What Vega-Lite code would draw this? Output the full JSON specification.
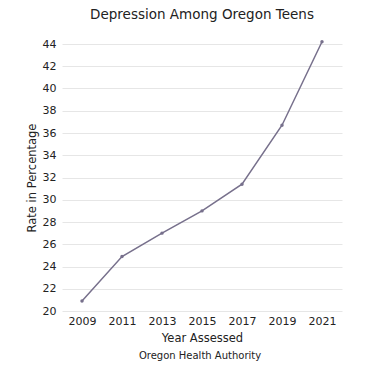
{
  "$schema": "https://vega.github.io/schema/vega-lite/v6.json",
  "background": "white",
  "padding": {"left": 26, "top": 7, "right": 5, "bottom": 5},
  "config": {
    "font": "DejaVu Sans",
    "view": {"stroke": null},
    "axis": {"domain": false, "ticks": false, "labelColor": "#222", "titleColor": "#222", "labelFont": "DejaVu Sans", "titleFont": "DejaVu Sans", "titleFontWeight": "normal", "labelFontSize": 11, "titleFontSize": 11.5}
  },
  "title": {"text": "Oregon Health Authority", "orient": "bottom", "anchor": "middle", "fontSize": 10, "fontWeight": "normal", "color": "#222", "font": "DejaVu Sans", "offset": 7, "dx": 16},
  "vconcat": [
    {
      "title": {"text": "Depression Among Oregon Teens", "fontSize": 13.5, "fontWeight": "normal", "color": "#222", "font": "DejaVu Sans", "anchor": "middle", "frame": "group", "offset": 17},
      "width": 280,
      "height": 267,
      "data": {"values": [
        {"year": "2009", "rate": 20.9},
        {"year": "2011", "rate": 24.9},
        {"year": "2013", "rate": 27.0},
        {"year": "2015", "rate": 29.0},
        {"year": "2017", "rate": 31.4},
        {"year": "2019", "rate": 36.7},
        {"year": "2021", "rate": 44.2}
      ]},
      "encoding": {
        "x": {"field": "year", "type": "ordinal", "title": "Year Assessed", "scale": {"type": "point", "padding": 0.5}, "axis": {"labelAngle": 0, "grid": false, "labelPadding": 4, "titlePadding": 6, "labelFontWeight": 500}},
        "y": {"field": "rate", "type": "quantitative", "title": "Rate in Percentage", "scale": {"domain": [20, 44], "nice": false, "zero": false}, "axis": {"values": [20, 22, 24, 26, 28, 30, 32, 34, 36, 38, 40, 42, 44], "gridColor": "#e6e6e6", "labelPadding": 6, "titlePadding": 5}}
      },
      "layer": [
        {"mark": {"type": "line", "color": "#77708c", "strokeWidth": 1.5}},
        {"mark": {"type": "point", "filled": true, "color": "#77708c", "size": 12, "opacity": 1}}
      ]
    }
  ]
}
